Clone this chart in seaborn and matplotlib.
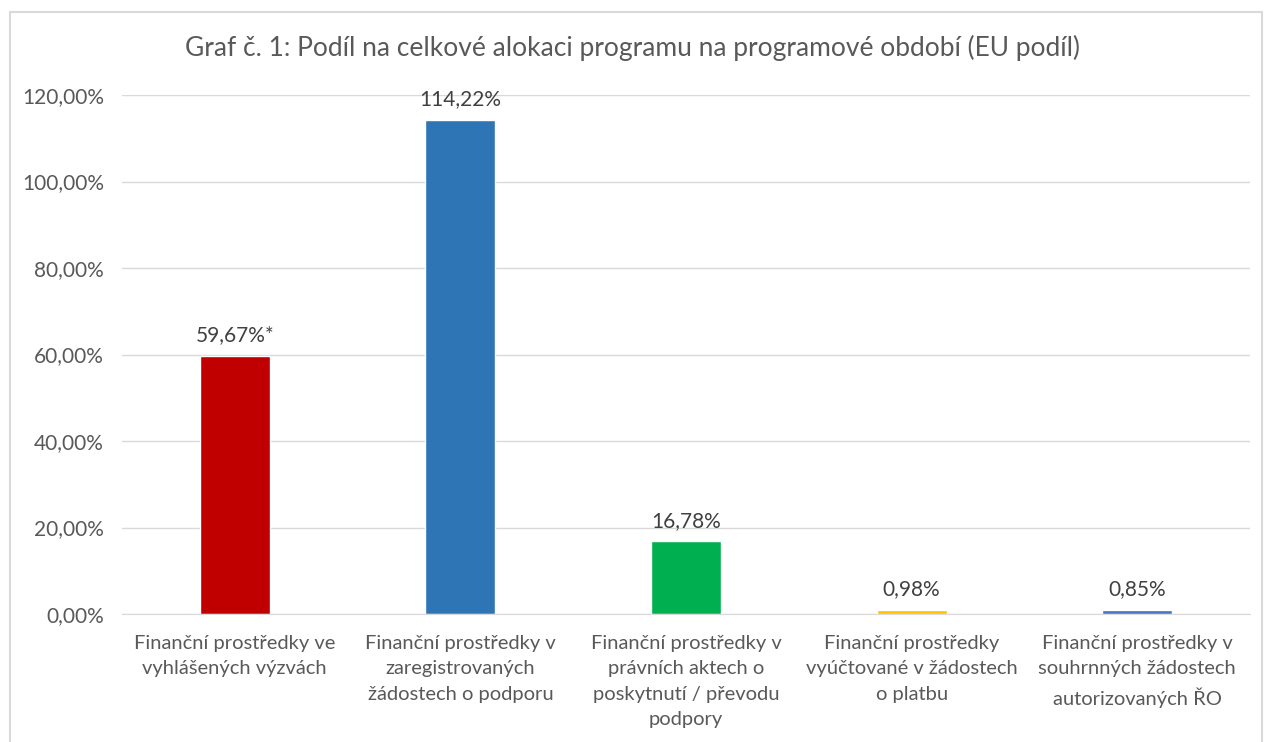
import matplotlib.pyplot as plt
import matplotlib.patches as mpatches
import seaborn as sns
import pandas as pd

categories = [
    "Finanční prostředky ve\nvyhlášených výzvách",
    "Finanční prostředky v\nzaregistrovaných\nžádostech o podporu",
    "Finanční prostředky v\nprávních aktech o\nposkytnutí / převodu\npodpory",
    "Finanční prostředky\nvyúčtované v žádostech\no platbu",
    "Finanční prostředky v\nsouhrnných žádostech\nautorizovaných ŘO",
]
values = [59.67, 114.22, 16.78, 0.98, 0.85]
labels = ["59,67%*", "114,22%", "16,78%", "0,98%", "0,85%"]
colors = ["#C00000", "#2E75B6", "#00B050", "#FFC000", "#4472C4"]
yticks = [0, 20, 40, 60, 80, 100, 120]

df = pd.DataFrame({"cat": categories, "val": values})

sns.set_style("white")
plt.rcParams["font.family"] = ["Lato", "DejaVu Sans"]
text_col = "#595959"

fig = plt.figure(figsize=(12.65, 7.42), dpi=100)
ax = fig.add_axes([122 / 1265, 1 - 614 / 742, 1128 / 1265, 519 / 742])

sns.barplot(data=df, x="cat", y="val", hue="cat", palette=colors,
            width=0.31, legend=False, ax=ax, saturation=1)

ax.set_ylim(0, 120)
ax.set_xlim(-0.5, 4.5)
ax.set_yticks(yticks)
ax.set_yticklabels([f"{t},00%" for t in yticks], fontsize=15, color=text_col)
ax.set_xticks(range(len(categories)))
ax.set_xticklabels(categories, fontsize=14.5, color=text_col, linespacing=1.6)
ax.tick_params(axis="x", length=0, pad=15)
ax.tick_params(axis="y", length=0, pad=13)
ax.set_xlabel("")
ax.set_ylabel("")
ax.grid(axis="y", color="#D9D9D9", linewidth=1)
ax.set_axisbelow(True)
for s in ["top", "right", "left"]:
    ax.spines[s].set_visible(False)
ax.spines["bottom"].set_color("#D9D9D9")

for i, (v, lab) in enumerate(zip(values, labels)):
    ax.text(i, v + 2.5, lab, ha="center", va="bottom", fontsize=15, color="#404040")

fig.text(0.5, 0.935, "Graf č. 1: Podíl na celkové alokaci programu na programové období (EU podíl)",
         ha="center", va="center", fontsize=19, color=text_col)

# chart border
fig.patches.append(mpatches.Rectangle((0.008, -0.02), 0.99, 1.004,
                                      transform=fig.transFigure, fill=False,
                                      edgecolor="#D9D9D9", linewidth=1.5))

fig.savefig("out.png", dpi=100, facecolor="white")
